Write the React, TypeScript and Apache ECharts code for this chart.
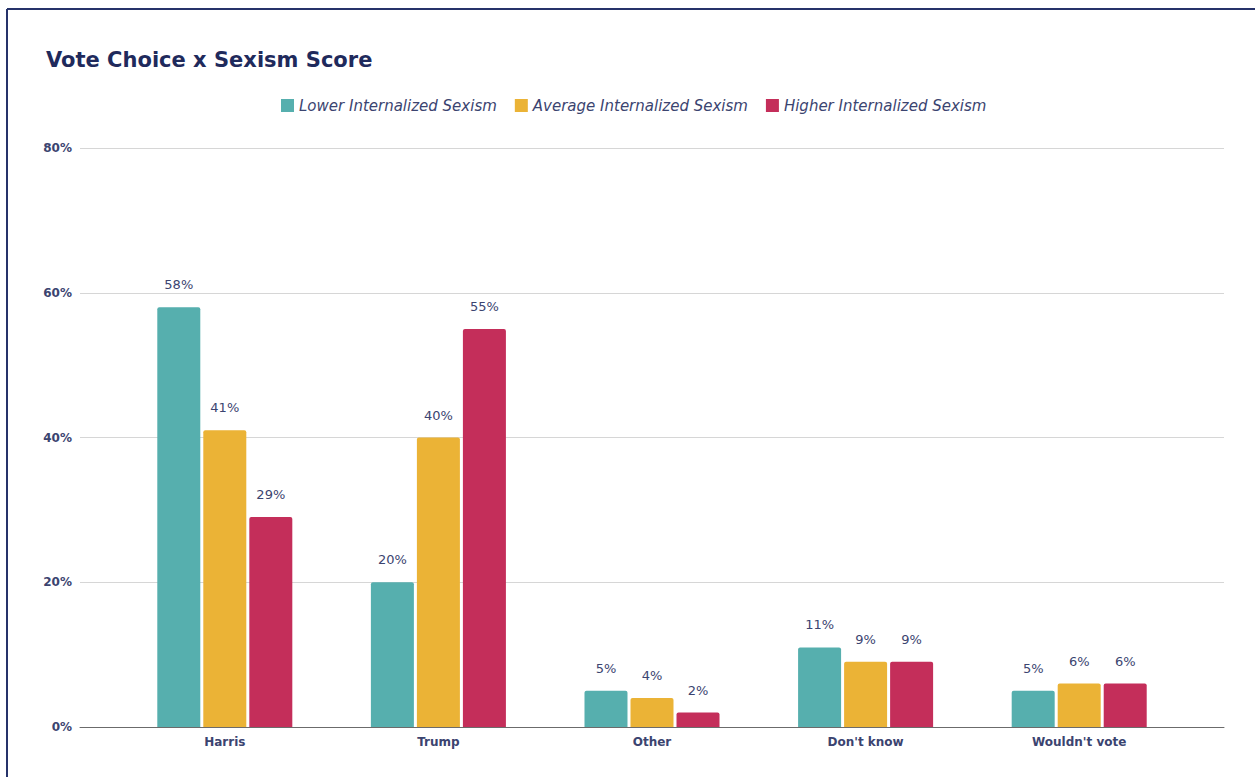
import React, { useEffect, useRef } from "react";
import * as echarts from "echarts";

const categories = ["Harris", "Trump", "Other", "Don't know", "Wouldn't vote"];
const seriesNames = ["Lower Internalized Sexism", "Average Internalized Sexism", "Higher Internalized Sexism"];
const lowerValues = [58, 20, 5, 11, 5];
const averageValues = [41, 40, 4, 9, 6];
const higherValues = [29, 55, 2, 9, 6];
const colors = ["#56AFAE", "#EBB336", "#C42E5A"];
const yTicks = [0, 20, 40, 60, 80];

const TEXT = "#3B4470";

export default function App() {
  const ref = useRef<HTMLDivElement>(null);
  useEffect(() => {
    document.body.style.overflow = "hidden";
    const chart = echarts.init(ref.current!, null, { renderer: "svg" });
    const values = [lowerValues, averageValues, higherValues];
    const option: any = {
      animation: false,
      backgroundColor: "#ffffff",
      title: {
        text: "Vote Choice x Sexism Score",
        left: 41,
        top: 44,
        textStyle: { fontFamily: "DejaVu Sans", fontWeight: "bold", fontSize: 21, color: "#1F2A5C" },
      },
      legend: {
        top: 93,
        left: 276,
        itemWidth: 13,
        itemHeight: 13,
        itemGap: 18,
        icon: "rect",
        textStyle: { fontFamily: "DejaVu Sans", fontStyle: "italic", fontSize: 15, color: TEXT },
        data: seriesNames,
      },
      grid: [
        { left: 80, right: 31, top: 148, bottom: 50, containLabel: false },
        { left: 118, right: 69, top: 148, bottom: 50, containLabel: false },
      ],
      xAxis: [
        {
          type: "category",
          gridIndex: 0,
          data: categories,
          axisLine: { show: true, lineStyle: { color: "#6b6b6b", width: 1 } },
          axisTick: { show: false },
          axisLabel: { show: false },
        },
        {
          type: "category",
          gridIndex: 1,
          data: categories,
          axisLine: { show: false },
          axisTick: { show: false },
          axisLabel: {
            fontFamily: "DejaVu Sans",
            fontSize: 12,
            fontWeight: "bold",
            color: TEXT,
            margin: 9,
          },
        },
      ],
      yAxis: [
        {
          type: "value",
          gridIndex: 0,
          min: 0,
          max: 80,
          interval: 20,
          axisLine: { show: false },
          axisTick: { show: false },
          splitLine: { lineStyle: { color: "#d6d6d6", width: 1 } },
          axisLabel: {
            formatter: (v: number) => (yTicks.includes(v) ? v + "%" : ""),
            fontFamily: "DejaVu Sans",
            fontSize: 12,
            fontWeight: "bold",
            color: TEXT,
            margin: 8,
          },
        },
        {
          type: "value",
          gridIndex: 1,
          min: 0,
          max: 80,
          interval: 20,
          show: false,
          splitLine: { show: false },
        },
      ],
      series: seriesNames.map((name, i) => ({
        name,
        type: "bar",
        xAxisIndex: 1,
        yAxisIndex: 1,
        data: values[i],
        barWidth: 43,
        barGap: "7%",
        itemStyle: { color: colors[i], borderRadius: [2, 2, 0, 0] },
        label: {
          show: true,
          position: "top",
          distance: 16,
          formatter: "{c}%",
          fontFamily: "DejaVu Sans",
          fontSize: 13,
          color: TEXT,
        },
      })),
      graphic: [
        { type: "line", shape: { x1: 7, y1: 9, x2: 1255, y2: 9 }, style: { stroke: "#26336A", lineWidth: 2 } },
        { type: "line", shape: { x1: 7, y1: 9, x2: 7, y2: 777 }, style: { stroke: "#26336A", lineWidth: 2 } },
      ],
    };
    chart.setOption(option);
    return () => chart.dispose();
  }, []);
  return <div ref={ref} style={{ position: "fixed", left: 0, top: 0, width: 1255, height: 777 }} />;
}
